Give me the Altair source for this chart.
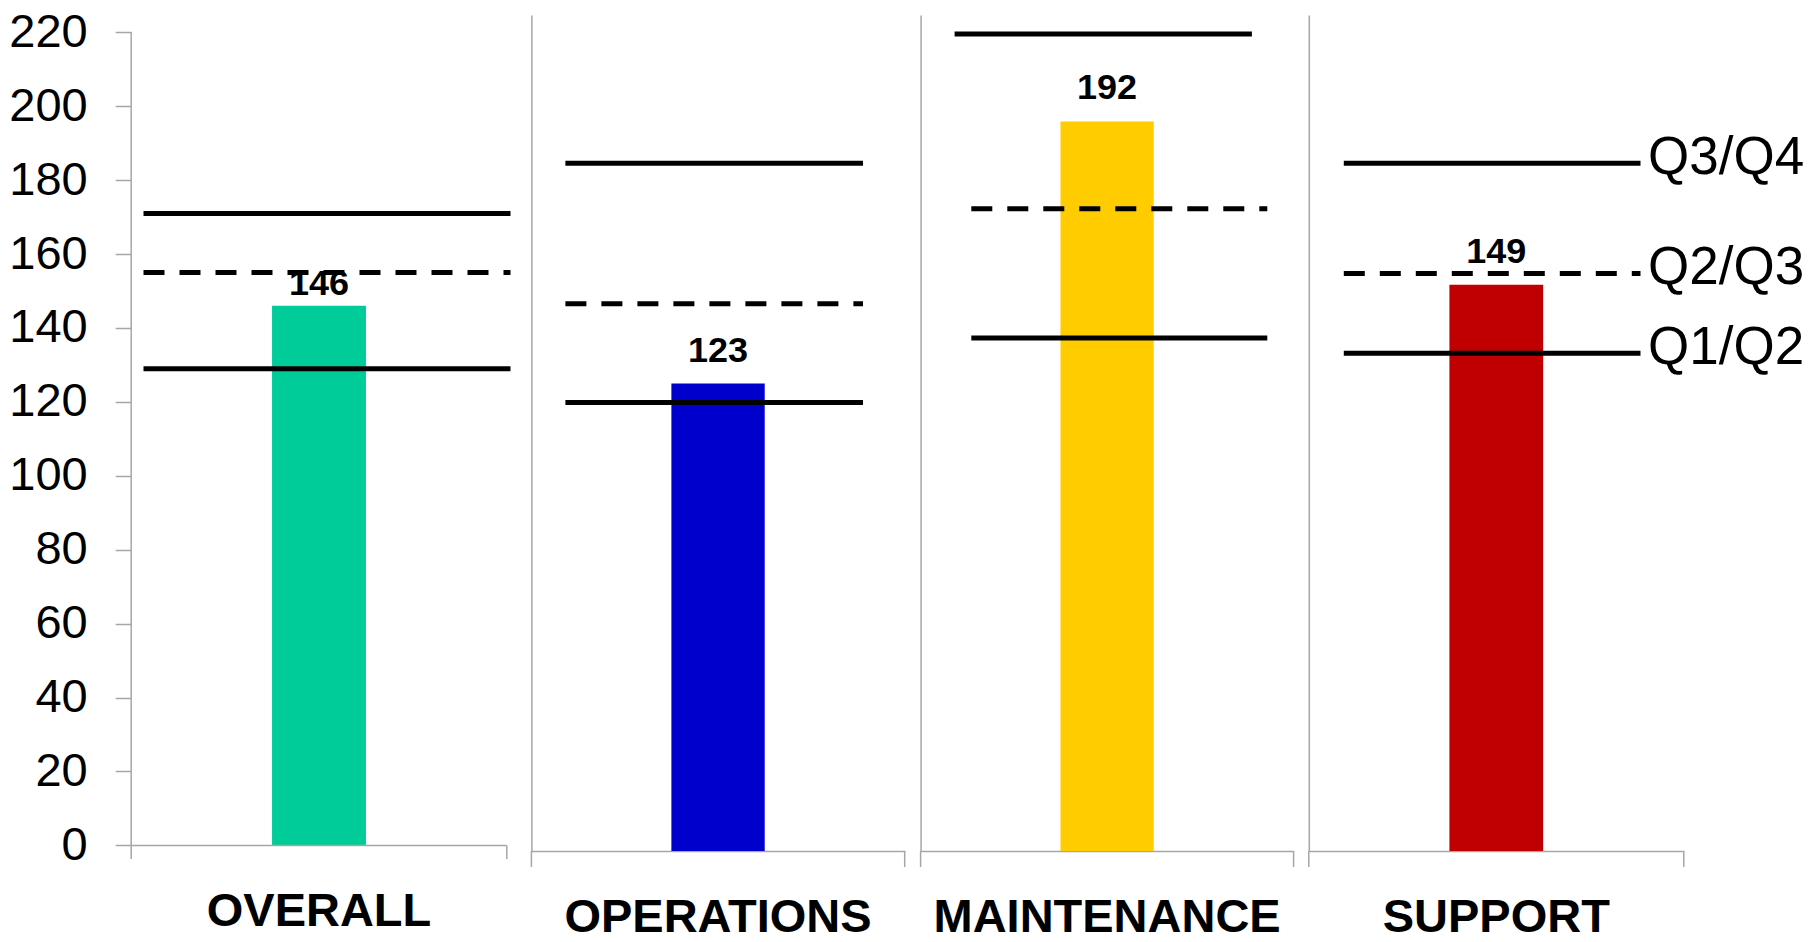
import altair as alt
import pandas as pd

FONT = "Liberation Sans"
GRAY = "#A6A6A6"

categories = ["OVERALL", "OPERATIONS", "MAINTENANCE", "SUPPORT"]
values = [146, 123, 192, 149]
q1q2 = [129, 118, 135, 131]
q2q3 = [155, 144, 169, 152]
q3q4 = [171, 181, 215, 181]
colors = ["#00CC99", "#0000CC", "#FFCC00", "#C00000"]
q_labels = ["Q1/Q2", "Q2/Q3", "Q3/Q4"]
y_ticks = list(range(0, 221, 20))

H = 836
widths = [375.6, 373.3, 373.0, 375.0]
# pixel extents of the threshold lines within each panel: (upper, middle, lower)
line_ext = [
    [(12.3, 379.3), (12.3, 379.3), (12.3, 379.3)],
    [(34, 331.6), (34, 331.6), (34, 331.6)],
    [(34, 331.3), (50.7, 346.7), (50.7, 346.7)],
    [(35, 331.7), (35, 331.7), (35, 331.7)],
]
ydomains = [[-1.51, 224.68], [0, 220], [0, 220], [0, 220]]
text_dy = [-22, -33, -33, -33]
label_pad = [74.5, 80.5, 80.5, 80.5]


def make_panel(i):
    first = i == 0
    last = i == len(categories) - 1
    W = widths[i]
    yscale = alt.Scale(domain=ydomains[i], nice=False, zero=False)
    if first:
        yaxis = alt.Axis(
            title=None, values=y_ticks, grid=False, domain=False,
            tickColor=GRAY, tickWidth=1.5, tickSize=16,
            labelFont=FONT, labelFontSize=47, labelColor="black",
            labelPadding=28,
        )
    else:
        yaxis = alt.Axis(
            title=None, grid=False, labels=False, ticks=False,
            domain=True, domainColor=GRAY, domainWidth=1.5,
        )

    def yfield():
        return alt.Y("v:Q", scale=yscale, axis=yaxis)

    def ydatum(d):
        return alt.Y(datum=d, type="quantitative", scale=yscale, axis=yaxis)

    xenc = alt.X(
        "cat:N",
        scale=alt.Scale(paddingInner=0.75, paddingOuter=0.375),
        axis=alt.Axis(
            title=None, ticks=False, domain=not first, domainColor=GRAY,
            domainWidth=1.5, labelAngle=0, labelFont=FONT, labelFontSize=47,
            labelFontWeight="bold", labelColor="black", labelLimit=1000,
            labelPadding=label_pad[i], labelBaseline="alphabetic",
        ),
    )

    bar_df = pd.DataFrame({"cat": [categories[i]], "v": [values[i]]})

    layers = []
    if first:
        layers.append(
            alt.Chart(bar_df).mark_rule(color=GRAY, strokeWidth=1.5).encode(
                x=alt.value(0), y=ydatum(y_ticks[-1]), y2=alt.value(H + 8))
        )
        layers.append(
            alt.Chart(bar_df).mark_rule(color=GRAY, strokeWidth=1.5).encode(
                x=alt.value(0), x2=alt.value(W), y=ydatum(0))
        )
        layers.append(
            alt.Chart(bar_df).mark_rule(color=GRAY, strokeWidth=1.5).encode(
                x=alt.value(W), y=ydatum(0), y2=alt.value(H + 8))
        )
        # invisible spacer keeping the gap before the next panel
        layers.append(
            alt.Chart(bar_df).mark_rule(opacity=0, strokeWidth=1).encode(
                x=alt.value(W + 10.2), y=alt.value(H - 2), y2=alt.value(H - 1))
        )
    else:
        for xv in (0, W):
            layers.append(
                alt.Chart(bar_df).mark_rule(color=GRAY, strokeWidth=1.5).encode(
                    x=alt.value(xv), y=alt.value(H), y2=alt.value(H + 16))
            )

    bar = alt.Chart(bar_df).mark_bar(color=colors[i]).encode(x=xenc, y=yfield())
    layers.insert(0, bar)

    thresholds = [(q3q4[i], q_labels[2], False), (q2q3[i], q_labels[1], True), (q1q2[i], q_labels[0], False)]
    for k, (val, lab, dashed) in enumerate(thresholds):
        df = pd.DataFrame({"v": [val], "lab": [lab]})
        x0, x1 = line_ext[i][k]
        kw = dict(color="black", strokeWidth=5, strokeCap="butt")
        if dashed:
            kw["strokeDash"] = [21, 15]
        layers.append(
            alt.Chart(df).mark_rule(**kw).encode(
                x=alt.value(x0), x2=alt.value(x1), y=yfield())
        )
        if last:
            layers.append(
                alt.Chart(df).mark_text(
                    align="left", baseline="middle", font=FONT, fontSize=53,
                    color="black", dy=-5,
                ).encode(x=alt.value(339.3), y=yfield(), text="lab:N")
            )

    text = alt.Chart(bar_df).mark_text(
        font=FONT, fontSize=36, fontWeight="bold", color="black",
        baseline="middle", dy=text_dy[i],
    ).encode(x=xenc, y=yfield(), text="v:Q")
    layers.append(text)

    return alt.layer(*layers).properties(width=W, height=H)


panels = [make_panel(i) for i in range(len(categories))]

chart = (
    alt.hconcat(*panels, spacing=13.2)
    .properties(padding={"left": 8.2, "top": 8, "right": 2, "bottom": 0}, background="white")
    .configure_view(stroke=None)
)

chart.save("out.html", embed_options={"renderer": "svg", "actions": False})
